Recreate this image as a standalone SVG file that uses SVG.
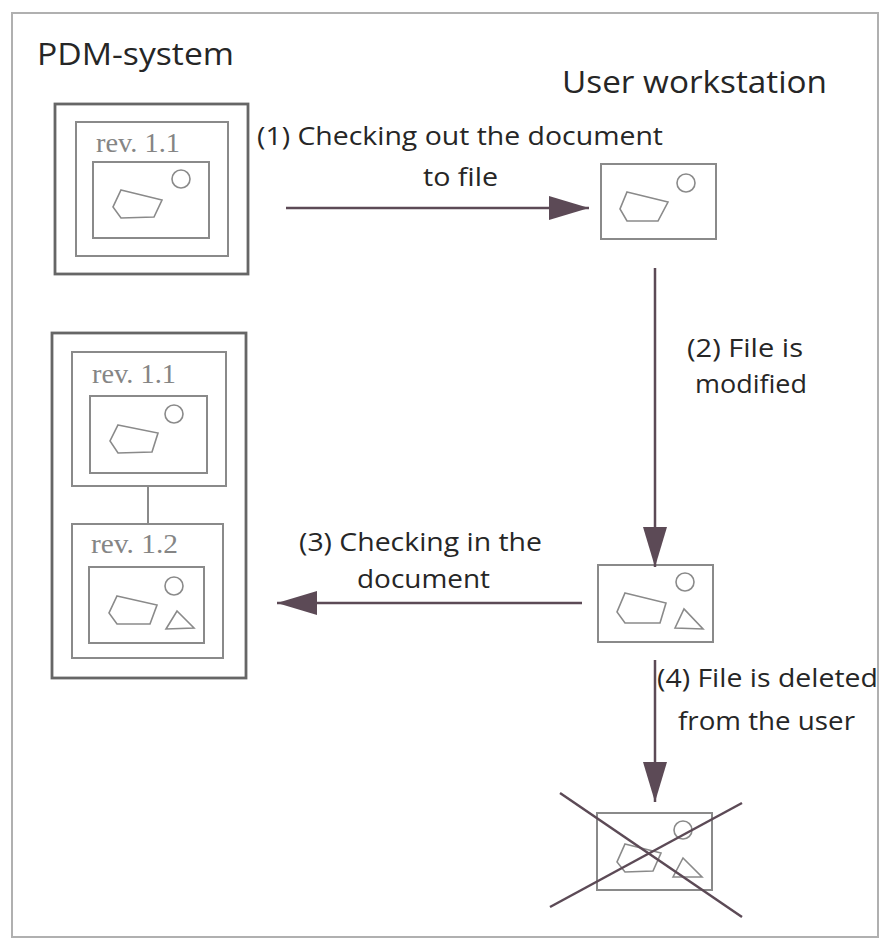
<svg xmlns="http://www.w3.org/2000/svg" width="882" height="941" viewBox="0 0 882 941">
<defs>
<style>
.lbl{font-family:"Open Sans","Liberation Sans",sans-serif;fill:#262626;}
.title{font-size:31px;}
.cap{font-size:25px;}
.rev{font-family:"Liberation Serif","DejaVu Serif",serif;font-size:27px;fill:#858585;}
.outer{fill:none;stroke:#666666;stroke-width:2.8;}
.box{fill:none;stroke:#8a8a8a;stroke-width:2;}
.shape{fill:none;stroke:#8a8a8a;stroke-width:1.6;}
.conn{stroke:#5c4a56;stroke-width:2.5;fill:none;}
.cross{stroke:#5c4a56;stroke-width:2.5;}
</style>
<marker id="ah" viewBox="0 0 40 24" refX="40" refY="12" markerWidth="40" markerHeight="24" markerUnits="userSpaceOnUse" orient="auto">
<path d="M0,0 L40,12 L0,24 Z" fill="#5c4a56"/>
</marker>
</defs>
<rect width="882" height="941" fill="#ffffff"/>
<rect x="12" y="13" width="866" height="924" fill="none" stroke="#b0b0b0" stroke-width="2"/>

<text class="lbl title" x="37" y="65" textLength="197" lengthAdjust="spacingAndGlyphs">PDM-system</text>
<text class="lbl title" x="562" y="93" textLength="265" lengthAdjust="spacingAndGlyphs">User workstation</text>

<g id="pdm-doc-1">
<rect class="outer" x="55" y="104" width="193" height="170"/>
<rect class="box" x="76" y="122" width="152" height="134"/>
<text class="rev" x="96" y="152" textLength="84" lengthAdjust="spacingAndGlyphs">rev. 1.1</text>
<rect class="box" x="93" y="162" width="116" height="76"/>
<circle class="shape" cx="181" cy="179" r="9"/>
<polygon class="shape" points="121,190 162,200 154,217 121,218 113,207"/>
</g>

<g id="user-doc-1">
<rect class="box" x="601" y="164" width="115" height="75"/>
<circle class="shape" cx="686" cy="183" r="9"/>
<polygon class="shape" points="627,192 668,202 658,221 627,221 620,209"/>
</g>

<g id="pdm-doc-2">
<rect class="outer" x="52" y="333" width="194" height="345"/>
<rect class="box" x="72" y="352" width="154" height="134"/>
<text class="rev" x="92" y="383" textLength="84" lengthAdjust="spacingAndGlyphs">rev. 1.1</text>
<rect class="box" x="90" y="396" width="117" height="77"/>
<circle class="shape" cx="174" cy="414" r="9"/>
<polygon class="shape" points="118,425 158,433 152,452 118,453 110,441"/>
<line class="box" x1="148" y1="486" x2="148" y2="524"/>
<rect class="box" x="72" y="524" width="151" height="134"/>
<text class="rev" x="91" y="553" textLength="87" lengthAdjust="spacingAndGlyphs">rev. 1.2</text>
<rect class="box" x="89" y="567" width="115" height="76"/>
<circle class="shape" cx="174" cy="586" r="9"/>
<polygon class="shape" points="117,596 157,605 150,624 117,624 109,613"/>
<polygon class="shape" points="166,629 177,611 194,628"/>
</g>

<g id="user-doc-2">
<rect class="box" x="598" y="565" width="115" height="77"/>
<circle class="shape" cx="685" cy="582" r="9"/>
<polygon class="shape" points="625,593 666,603 660,623 625,623 617,612"/>
<polygon class="shape" points="675,628 684,609 703,629"/>
</g>

<g id="deleted-doc">
<rect class="box" x="597" y="813" width="115" height="77"/>
<circle class="shape" cx="683" cy="830" r="9"/>
<polygon class="shape" points="625,844 661,853 653,871 625,872 617,862"/>
<polygon class="shape" points="673,877 683,858 702,877"/>
<line class="cross" x1="560" y1="793" x2="742" y2="917"/>
<line class="cross" x1="550" y1="907" x2="742" y2="803"/>
</g>

<g id="connectors">
<line class="conn" x1="286" y1="208" x2="589" y2="208" marker-end="url(#ah)"/>
<line class="conn" x1="655" y1="268" x2="655" y2="567" marker-end="url(#ah)"/>
<line class="conn" x1="582" y1="603" x2="277" y2="603" marker-end="url(#ah)"/>
<line class="conn" x1="655" y1="660" x2="655" y2="802" marker-end="url(#ah)"/>
</g>

<g id="labels">
<text class="lbl cap" x="257" y="145" textLength="406" lengthAdjust="spacingAndGlyphs">(1) Checking out the document</text>
<text class="lbl cap" x="423" y="186" textLength="75" lengthAdjust="spacingAndGlyphs">to file</text>
<text class="lbl cap" x="687" y="357" textLength="116" lengthAdjust="spacingAndGlyphs">(2) File is</text>
<text class="lbl cap" x="695" y="393" textLength="112" lengthAdjust="spacingAndGlyphs">modified</text>
<text class="lbl cap" x="299" y="551" textLength="243" lengthAdjust="spacingAndGlyphs">(3) Checking in the</text>
<text class="lbl cap" x="357" y="588" textLength="133" lengthAdjust="spacingAndGlyphs">document</text>
<text class="lbl cap" x="657" y="687" textLength="221" lengthAdjust="spacingAndGlyphs">(4) File is deleted</text>
<text class="lbl cap" x="678" y="730" textLength="177" lengthAdjust="spacingAndGlyphs">from the user</text>
</g>
</svg>
